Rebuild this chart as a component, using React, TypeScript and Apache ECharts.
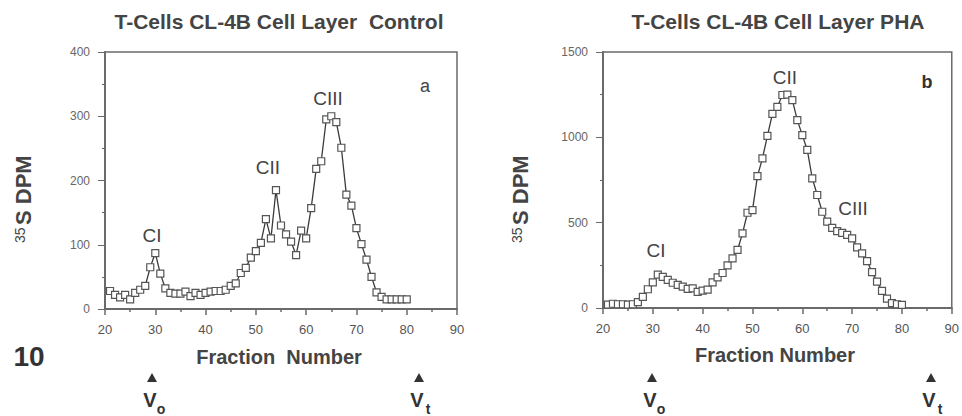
import React, { useEffect, useRef } from "react";
import * as echarts from "echarts";

const fractions = [21, 22, 23, 24, 25, 26, 27, 28, 29, 30, 31, 32, 33, 34, 35, 36, 37, 38, 39, 40, 41, 42, 43, 44, 45, 46, 47, 48, 49, 50, 51, 52, 53, 54, 55, 56, 57, 58, 59, 60, 61, 62, 63, 64, 65, 66, 67, 68, 69, 70, 71, 72, 73, 74, 75, 76, 77, 78, 79, 80];

const controlDpm = [28, 22, 18, 22, 15, 25, 30, 36, 65, 87, 55, 32, 25, 24, 24, 27, 20, 25, 22, 25, 27, 28, 28, 30, 36, 40, 56, 64, 80, 90, 103, 140, 110, 185, 130, 116, 105, 84, 122, 110, 157, 218, 230, 295, 300, 291, 251, 178, 161, 126, 101, 77, 50, 26, 19, 15, 15, 15, 15, 15];

const phaDpm = [20, 25, 22, 22, 20, 22, 35, 65, 110, 150, 195, 182, 165, 148, 135, 125, 112, 115, 95, 102, 108, 150, 180, 205, 250, 291, 340, 437, 558, 574, 773, 877, 1008, 1137, 1179, 1248, 1250, 1218, 1101, 1013, 926, 760, 662, 564, 506, 470, 450, 440, 428, 408, 355, 320, 275, 210, 155, 100, 55, 28, 22, 18];

const xTicks = [20, 30, 40, 50, 60, 70, 80, 90];
const controlYTicks = [0, 100, 200, 300, 400];
const phaYTicks = [0, 500, 1000, 1500];

const FONT = "'Liberation Sans', Arial, Helvetica, sans-serif";
const TXT = "#444";
const AX = "#6a6a6a";

function txt(text: string, x: number, y: number, size: number, weight: string = "normal", align: string = "center", color: string = TXT) {
  return {
    type: "text",
    x,
    y,
    style: {
      text,
      font: `${weight} ${size}px ${FONT}`,
      fill: color,
      textAlign: align,
      textVerticalAlign: "middle",
    },
    silent: true,
  };
}

function yName(x: number, y: number) {
  return {
    type: "group",
    x,
    y,
    rotation: Math.PI / 2,
    children: [
      {
        type: "text",
        x: 0,
        y: -7,
        style: { text: "35", font: `normal 14px ${FONT}`, fill: TXT, textAlign: "left", textVerticalAlign: "bottom" },
      },
      {
        type: "text",
        x: 18,
        y: 0,
        style: { text: "S DPM", font: `bold 22px ${FONT}`, fill: TXT, textAlign: "left", textVerticalAlign: "bottom" },
      },
    ],
  };
}

function marker(x: number, sub: string) {
  return [
    {
      type: "polygon",
      shape: { points: [[x - 5, 382], [x + 5, 382], [x, 373]] },
      style: { fill: "#333" },
      silent: true,
    },
    txt("V", x - 2, 400, 20, "bold", "center", "#333"),
    txt(sub, x + 9, 409, 14, "bold", "center", "#333"),
  ];
}

function xAxis(gridIndex: number) {
  return {
    type: "value",
    gridIndex,
    min: xTicks[0],
    max: xTicks[xTicks.length - 1],
    interval: 10,
    axisLine: { show: true, lineStyle: { color: AX, width: 2 } },
    axisTick: { show: true, inside: false, length: 6, lineStyle: { color: AX, width: 1.5 } },
    minorTick: { show: true, splitNumber: 2, length: 3, lineStyle: { color: AX, width: 1.5 } },
    axisLabel: { margin: 14, color: "#555", fontSize: 13, fontFamily: FONT, formatter: (v: number) => String(v) },
    splitLine: { show: false },
  };
}

function yAxis(gridIndex: number, ticks: number[]) {
  return {
    type: "value",
    gridIndex,
    min: ticks[0],
    max: ticks[ticks.length - 1],
    interval: ticks[1] - ticks[0],
    axisLine: { show: true, lineStyle: { color: AX, width: 2 } },
    axisTick: { show: true, inside: false, length: 7, lineStyle: { color: AX, width: 1 } },
    minorTick: { show: true, splitNumber: 2, length: 3, lineStyle: { color: AX, width: 1 } },
    axisLabel: { margin: 15, color: "#666", fontSize: 12, fontFamily: FONT, formatter: (v: number) => String(v) },
    splitLine: { show: false },
  };
}

function series(idx: number, values: number[]) {
  return {
    type: "line",
    xAxisIndex: idx,
    yAxisIndex: idx,
    data: fractions.map((f, i) => [f, values[i]]),
    symbol: "rect",
    symbolSize: 7,
    showSymbol: true,
    lineStyle: { color: "#3a3a3a", width: 1.3 },
    itemStyle: { color: "#fff", borderColor: "#555", borderWidth: 1.2 },
    z: 3,
  };
}

export default function App() {
  const ref = useRef<HTMLDivElement>(null);
  useEffect(() => {
    if (!ref.current) return;
    const chart = echarts.init(ref.current, null, { renderer: "svg" });
    chart.setOption({
      animation: false,
      backgroundColor: "#fff",
      grid: [
        { left: 105, top: 52, width: 352, height: 257, show: true, borderColor: AX, borderWidth: 1.5, containLabel: false },
        { left: 603, top: 52, width: 352, height: 256, show: true, borderColor: AX, borderWidth: 1.5, containLabel: false },
      ],
      xAxis: [xAxis(0), xAxis(1)],
      yAxis: [yAxis(0, controlYTicks), yAxis(1, phaYTicks)],
      series: [series(0, controlDpm), series(1, phaDpm)],
      graphic: [
        txt("T-Cells CL-4B Cell Layer  Control", 279, 21, 21, "bold"),
        txt("T-Cells CL-4B Cell Layer PHA", 778, 21, 21, "bold"),
        txt("Fraction  Number", 279, 357, 20, "bold"),
        txt("Fraction Number", 775, 355, 20, "bold"),
        txt("10", 29, 356, 28, "bold", "center", "#333"),
        yName(34, 243),
        yName(531, 243),
        txt("a", 425, 86, 18),
        txt("CIII", 328, 98, 19),
        txt("CII", 268, 167, 19),
        txt("CI", 152, 235, 19),
        txt("b", 927, 82, 18, "bold", "center", "#333"),
        txt("CII", 785, 77, 19),
        txt("CIII", 853, 208, 19),
        txt("CI", 656, 250, 19),
        ...marker(152, "o"),
        ...marker(419, "t"),
        ...marker(652, "o"),
        ...marker(931, "t"),
      ],
    });
    return () => chart.dispose();
  }, []);
  return <div ref={ref} style={{ position: "absolute", left: 0, top: 0, width: 962, height: 416 }} />;
}
